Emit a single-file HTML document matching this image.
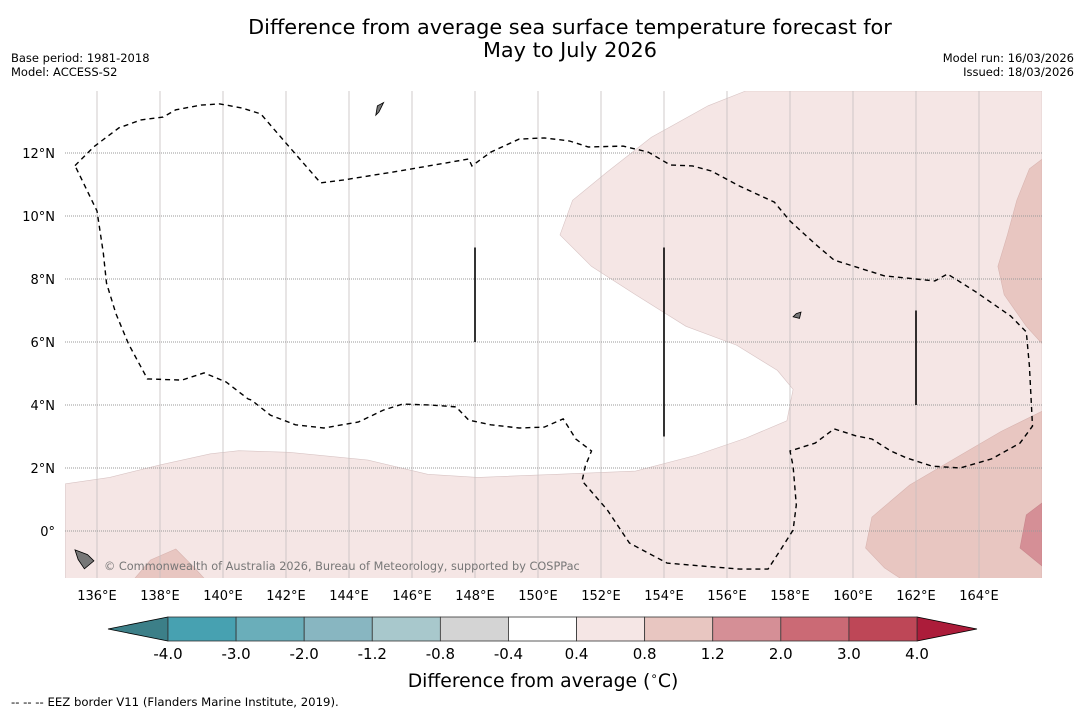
<!DOCTYPE html>
<html><head><meta charset="utf-8">
<style>
html,body{margin:0;padding:0;background:#fff;}
body{width:1085px;height:713px;overflow:hidden;font-family:"DejaVu Sans","Liberation Sans",sans-serif;}
svg text{font-family:"DejaVu Sans","Liberation Sans",sans-serif;}
</style></head><body>
<svg id="chart" width="1085" height="713" xmlns="http://www.w3.org/2000/svg">
<text x="570" y="34" font-size="20.8" text-anchor="middle">Difference from average sea surface temperature forecast for</text>
<text x="570" y="57" font-size="20.8" text-anchor="middle">May to July 2026</text>
<text x="11" y="62" font-size="11.5">Base period: 1981-2018</text>
<text x="11" y="76" font-size="11.5">Model: ACCESS-S2</text>
<text x="1074" y="62" font-size="11.5" text-anchor="end">Model run: 16/03/2026</text>
<text x="1074" y="76" font-size="11.5" text-anchor="end">Issued: 18/03/2026</text>
<g id="map"></g>
<g id="cbar"></g>
<text x="543" y="687" font-size="18.8" text-anchor="middle">Difference from average (<tspan font-size="12" dy="-7">∘</tspan><tspan dy="7">C)</tspan></text>
<text x="11" y="706" font-size="11.7">--  --  -- EEZ border V11 (Flanders Marine Institute, 2019).</text>
</svg>
<script>
const NS="http://www.w3.org/2000/svg";
const lonTicks=[136,138,140,142,144,146,148,150,152,154,156,158,160,162,164];
const latTicks=[0,2,4,6,8,10,12];
const levelLabels=["-4.0","-3.0","-2.0","-1.2","-0.8","-0.4","0.4","0.8","1.2","2.0","3.0","4.0"];
const levelColors=["#47a1b1","#6aaeba","#88b6c1","#a8c8cc","#d4d4d4","#ffffff","#f5e6e5","#e8c6c1","#d58f96","#cb6a75","#be4757"];
const pink04=[[135,1.5],[136.4,1.7],[138,2.1],[139.6,2.45],[140.5,2.55],[142.1,2.5],[144.6,2.25],[146.5,1.8],[148.1,1.7],[150.6,1.8],[153.1,1.9],[155,2.4],[156.6,2.95],[157.9,3.5],[158.1,4.5],[157.6,5.1],[156.3,5.9],[154.7,6.5],[153.1,7.5],[151.7,8.4],[150.7,9.4],[151.1,10.5],[152.2,11.4],[153.6,12.5],[155.4,13.5],[156.6,13.97],[166,13.97],[166,-1.5],[135,-1.5]];
const pink08a=[[166,11.8],[165.6,11.5],[165.2,10.5],[164.9,9.4],[164.6,8.4],[164.8,7.5],[165.5,6.5],[166,5.95]];
const pink08b=[[166,3.8],[164.7,3.16],[163.4,2.4],[161.8,1.46],[160.6,0.44],[160.4,-0.54],[161,-1.17],[161.5,-1.5],[166,-1.5]];
const pink08c=[[137.2,-1.5],[137.7,-0.92],[138.5,-0.57],[139.1,-1.17],[139.4,-1.5]];
const pink12=[[166,0.89],[165.5,0.51],[165.3,-0.54],[166,-1.11]];
const eez=[[135.3,11.6],[135.9,12.2],[136.7,12.8],[137.4,13.05],[138.1,13.14],[138.5,13.37],[139.3,13.52],[139.9,13.56],[140.6,13.43],[141.2,13.24],[142.1,12.2],[143.1,11.05],[143.8,11.14],[145.6,11.43],[147.8,11.81],[147.9,11.59],[148.5,12.03],[149.4,12.44],[150.2,12.48],[151,12.38],[151.6,12.19],[152.7,12.22],[153.5,12.03],[154.2,11.62],[154.9,11.59],[155.5,11.43],[156.4,10.95],[157.5,10.44],[158,9.84],[158.8,9.11],[159.4,8.6],[160.2,8.35],[161,8.1],[162.6,7.94],[163,8.16],[163.9,7.59],[165,6.83],[165.5,6.32],[165.6,5.24],[165.7,3.33],[165.3,2.79],[164.4,2.29],[163.4,2],[162.5,2.06],[161.7,2.32],[161.2,2.54],[160.6,2.92],[160.1,3.02],[159.4,3.24],[158.8,2.79],[158,2.54],[158.1,2.06],[158.2,0.83],[158.1,0.03],[157.7,-0.6],[157.3,-1.21],[156.4,-1.21],[155.2,-1.11],[154.1,-1.02],[152.9,-0.38],[152.2,0.67],[151.4,1.59],[151.5,2.06],[151.7,2.54],[151.2,2.92],[150.8,3.56],[150.2,3.3],[149.4,3.27],[148.5,3.37],[147.8,3.52],[147.4,3.94],[146.6,4.0],[145.7,4.03],[145.1,3.84],[144.3,3.46],[143.2,3.27],[142.3,3.37],[141.5,3.68],[140.9,4.16],[140.8,4.19],[140.1,4.73],[139.4,5.02],[138.7,4.79],[137.6,4.83],[137,5.94],[136.6,6.9],[136.3,7.87],[136.2,8.83],[136,10.16],[135.3,11.6]];
const vlines=[[148,9],[148,6],[154,9],[154,3],[162,7],[162,4]];
const islands=[[[144.9,13.5],[145.1,13.6],[144.95,13.3],[144.85,13.2]],[[135.3,-0.6],[135.7,-0.75],[135.9,-0.95],[135.6,-1.2],[135.4,-0.9]],[[158.2,6.9],[158.35,6.95],[158.3,6.75],[158.1,6.8]]];
const X=lon=>97+(lon-136)*31.5, Y=lat=>531-lat*31.5;
const map=document.getElementById('map');
function mk(tag,at,parent){const e=document.createElementNS(NS,tag);for(const k in at)e.setAttribute(k,at[k]);(parent||map).appendChild(e);return e;}
const pts=a=>a.map(p=>X(p[0]).toFixed(1)+","+Y(p[1]).toFixed(1)).join(" ");
const defs=mk('defs',{});const cp=mk('clipPath',{id:'clip'},defs);mk('rect',{x:65,y:91,width:977,height:487},cp);
const g=mk('g',{'clip-path':'url(#clip)'});
let e;
e=mk('polygon',{points:pts(pink04),fill:levelColors[6],stroke:'#d8c4c4','stroke-width':0.6},g);


[pink08a,pink08b,pink08c].forEach(p=>{e=mk('polygon',{points:pts(p),fill:levelColors[7],stroke:'#d8b4b0','stroke-width':0.6},g);

});
e=mk('polygon',{points:pts(pink12),fill:levelColors[8],stroke:'#c8868c','stroke-width':0.6},g);


lonTicks.forEach(l=>{e=mk('line',{x1:X(l),x2:X(l),y1:91,y2:578,stroke:'#c4bebe','stroke-width':0.8},g);

});
latTicks.forEach(l=>{e=mk('line',{x1:65,x2:1042,y1:Y(l),y2:Y(l),stroke:'#999','stroke-width':1,'stroke-dasharray':'1,1'},g);

});
islands.forEach(p=>{e=mk('polygon',{points:pts(p),fill:'#777',stroke:'#000','stroke-width':0.8},g);

});
e=mk('polyline',{points:pts(eez),fill:'none',stroke:'#000','stroke-width':1.4,'stroke-dasharray':'5,4'},g);


for(let i=0;i<vlines.length;i+=2){e=mk('line',{x1:X(vlines[i][0]),x2:X(vlines[i+1][0]),y1:Y(vlines[i][1]),y2:Y(vlines[i+1][1]),stroke:'#000','stroke-width':1.6},g);

}
e=mk('text',{x:104,y:570,'font-size':11.3,fill:'#777'},g);e.textContent="© Commonwealth of Australia 2026, Bureau of Meteorology, supported by COSPPac";


lonTicks.forEach(l=>{e=mk('text',{x:X(l),y:600,'font-size':13,'text-anchor':'middle'});e.textContent=l+"°E";

});
latTicks.forEach(l=>{e=mk('text',{x:55,y:Y(l)+5,'font-size':13,'text-anchor':'end'});e.textContent=l===0?"0°":l+"°N";

});
const cb=document.getElementById('cbar');
const x0=168,x1=917,y0=617,y1=641,n=levelColors.length,w=(x1-x0)/n;
e=mk('polygon',{points:`108,629 ${x0},${y0} ${x0},${y1}`,fill:'#3c7f88',stroke:'#000','stroke-width':0.8},cb);


e=mk('polygon',{points:`977,629 ${x1},${y0} ${x1},${y1}`,fill:'#ac1c3a',stroke:'#000','stroke-width':0.8},cb);


levelColors.forEach((c,i)=>{e=mk('rect',{x:x0+i*w,y:y0,width:w,height:y1-y0,fill:c,stroke:'#333','stroke-width':0.8},cb);

});
levelLabels.forEach((t,i)=>{e=mk('text',{x:x0+i*w,y:659,'font-size':15,'text-anchor':'middle'},cb);e.textContent=t;

});
</script>
</body></html>
